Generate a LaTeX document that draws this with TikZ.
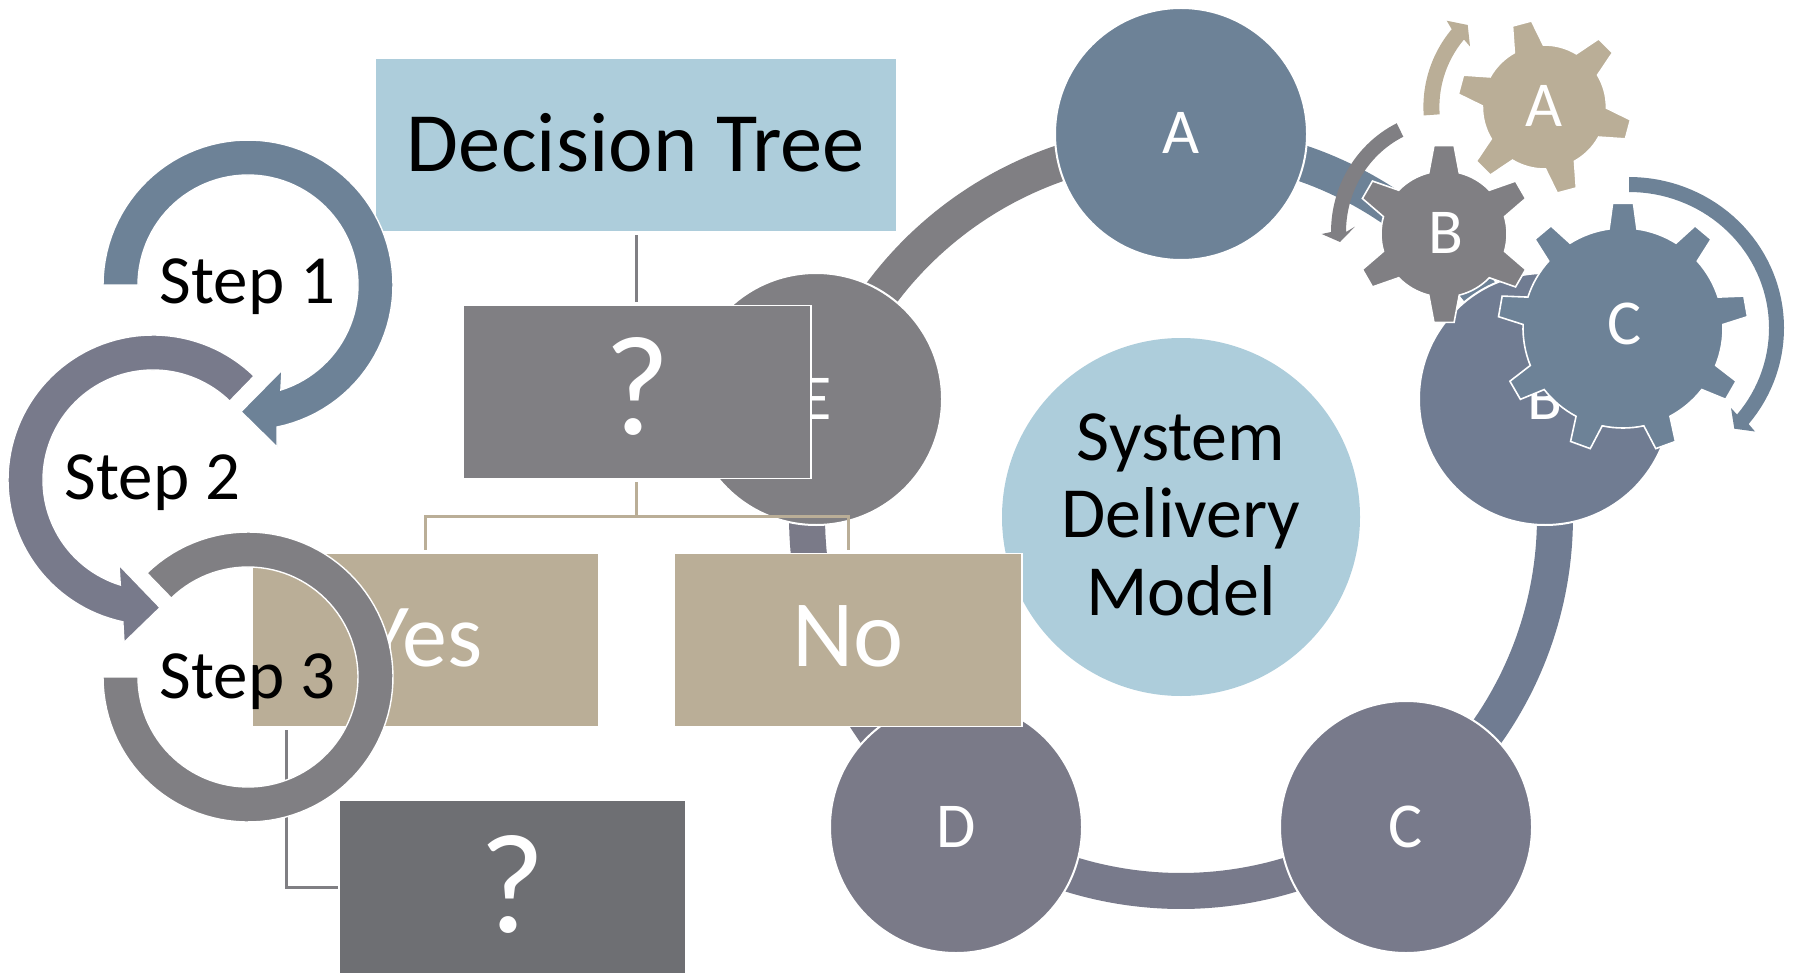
\documentclass[tikz,border=0pt]{standalone}
\usepackage{fontspec}
\setmainfont{Carlito}
\definecolor{cblue}{HTML}{6D8297}
\definecolor{cslate}{HTML}{707C92}
\definecolor{cviolet}{HTML}{787A8B}
\definecolor{cmauve}{HTML}{7A7A88}
\definecolor{cgray}{HTML}{807F83}
\definecolor{cdark}{HTML}{6E6F73}
\definecolor{ctan}{HTML}{BAAE97}
\definecolor{clight}{HTML}{ADCDDB}
\newcommand{\fsz}[1]{\fontsize{#1}{#1}\selectfont}
\newcommand{\ringband}[3]{\draw[#1,line width=36pt] plot[domain=#2:#3,samples=60] ({1181+374*cos(\x)},{517-374*sin(\x)});}
\newcommand{\gear}[9]{%
 \filldraw[fill=#1,draw=white,line width=1.6pt] ({#2+#4*cos(#7-#8)},{#3-#4*sin(#7-#8)})
 \foreach \i [evaluate=\i as \a using #7+\i*360/#6] in {1,...,#6}{
   -- ({#2+#4*cos(\a-360/#6-#8)},{#3-#4*sin(\a-360/#6-#8)})
   -- ({#2+#5*cos(\a-360/#6-#9)},{#3-#5*sin(\a-360/#6-#9)})
   -- ({#2+#5*cos(\a-360/#6+#9)},{#3-#5*sin(\a-360/#6+#9)})
   -- ({#2+#4*cos(\a-360/#6+#8)},{#3-#4*sin(\a-360/#6+#8)})
   \foreach \k in {1,...,8}{
     -- ({#2+#4*cos(\a-360/#6+#8+\k*(360/#6-2*#8)/8)},{#3-#4*sin(\a-360/#6+#8+\k*(360/#6-2*#8)/8)})
   }
 } -- cycle;}
\tikzset{
 disc/.style={circle,fill=#1,draw=white,line width=2pt,minimum size=252pt,inner sep=0pt},
 tbox/.style={rectangle,fill=#1,draw=white,line width=1.6pt,inner sep=0pt},
 conn/.style={line width=3pt,draw=#1,shorten >=3pt,shorten <=3pt},
 lab/.style={anchor=base,inner sep=0pt,text=white,font=\fsz{64}},
 steptxt/.style={anchor=base,inner sep=0pt,text=black,font=\fsz{69}},
 coretxt/.style={anchor=base,inner sep=0pt,text=black,font=\fsz{72}},
 boxtxt/.style={anchor=base,inner sep=0pt,text=white,font=\fsz{#1}},
 stepshape/.style={fill=#1,draw=white,line width=1.4pt}
}
\begin{document}
\begin{tikzpicture}[x=1pt,y=-1pt]
\useasboundingbox (0,0) rectangle (1793,976);
% ring
\ringband{cgray}{162}{90}
\ringband{cblue}{90}{18}
\ringband{cslate}{18}{-54}
\ringband{cviolet}{-54}{-126}
\ringband{cmauve}{-126}{-198}
\node[disc=cblue] (ra) at (1181,134) {};
\node[disc=cslate] (rb) at (1545,399) {};
\node[disc=cviolet] (rc) at (1406,827) {};
\node[disc=cmauve] (rd) at (956,827) {};
\node[disc=cgray] (re) at (816,399) {};
\node[lab] (la) at (1181,154) {A};
\node[lab] (lb) at (1545,419) {B};
\node[lab] (lc) at (1406,847) {C};
\node[lab] (ld) at (956,847) {D};
\node[lab] (le) at (816,419) {E};
\node[circle,fill=clight,minimum size=358pt,inner sep=0pt] (core) at (1181,517) {};
\node[coretxt] (s1) at (1181,460) {System};
\node[coretxt] (s2) at (1181,537) {Delivery};
\node[coretxt] (s3) at (1181,615) {Model};
% gears
\gear{ctan}{1544.4}{107}{62}{87}{6}{45}{14}{6.5}
\gear{cgray}{1444}{234}{63}{89}{6}{30}{14}{6.5}
\gear{cblue}{1623}{328}{100}{125}{9}{10}{8}{4.8}
\node[lab] (ga) at (1544.4,127) {A};
\node[lab] (gb) at (1446,254) {B};
\node[lab] (gc) at (1625,344) {C};
% gear arrows
\fill[ctan] plot[domain=184:140,samples=30] ({1544.4+121*cos(\x)},{107-121*sin(\x)})
  -- (1446.7,20.7) -- (1467.7,25) -- (1470,46.5)
  -- plot[domain=140:184,samples=30] ({1544.4+105*cos(\x)},{107-105*sin(\x)}) -- cycle;
\fill[cgray] plot[domain=116:180,samples=30] ({1448+117*cos(\x)},{232-121*sin(\x)})
  -- (1321.7,234) -- (1340,242) -- (1355,226.6)
  -- plot[domain=180:116,samples=30] ({1448+102*cos(\x)},{232-106*sin(\x)}) -- cycle;
\fill[cblue] plot[domain=90:-39.5,samples=50] ({1629+155*cos(\x)},{328-151*sin(\x)})
  -- (1755,431.5) -- (1734.3,428.7) -- (1731,408)
  -- plot[domain=-39.5:90,samples=50] ({1629+140*cos(\x)},{328-136*sin(\x)}) -- cycle;
% decision tree
\node[tbox=clight,minimum width=522pt,minimum height=173pt] (dt) at (636,145) {};
\node[tbox=cgray,minimum width=348pt,minimum height=173pt] (q1) at (637,392) {};
\node[tbox=ctan,minimum width=346pt,minimum height=173pt] (yes) at (425.5,640) {};
\node[tbox=ctan,minimum width=348pt,minimum height=173pt] (no) at (848,640) {};
\node[tbox=cdark,minimum width=346pt,minimum height=173pt] (q2) at (512.5,887) {};
\node[boxtxt=84.5,text=black] (tdt) at (636,171.5) {Decision Tree};
\node[boxtxt=142] (tq1) at (637,434.5) {?};
\node[boxtxt=90] (tyes) at (424,666) {Yes};
\node[boxtxt=95] (tno) at (848,666) {No};
\node[boxtxt=142] (tq2) at (512,932) {?};
\coordinate (bus) at (636,516);
\draw[conn=cgray] (dt.south) -- (dt.south |- q1.north);
\draw[conn=ctan,shorten >=0pt] (dt.south |- q1.south) -- (bus);
\draw[conn=ctan,shorten <=0pt] (bus) -| (yes.north);
\draw[conn=ctan,shorten <=0pt] (bus) -| (no.north);
\draw[conn=cgray,shorten >=1pt] ([xshift=34.5pt]yes.south west) |- (q2.west);
% steps
\filldraw[stepshape=cblue] plot[domain=180:-78.4,samples=80] ({248+145*cos(\x)},{285-145*sin(\x)})
  -- (277,447) -- (241,411.6) -- (282,370)
  -- plot[domain=-72.6:180,samples=80] ({248+110*cos(\x)},{285-110*sin(\x)}) -- cycle;
\filldraw[stepshape=cviolet] plot[domain=45.8:258,samples=80] ({153+145*cos(\x)},{480-145*sin(\x)})
  -- (124,642.5) -- (160,607.6) -- (119,565)
  -- plot[domain=252.7:45.8,samples=80] ({153+110*cos(\x)},{480-110*sin(\x)}) -- cycle;
\filldraw[stepshape=cgray] plot[domain=180:494.2,samples=100] ({248+145*cos(\x)},{677-145*sin(\x)})
  -- plot[domain=494.2:180,samples=100] ({248+110*cos(\x)},{677-110*sin(\x)}) -- cycle;
\node[steptxt] (st1) at (247.5,304) {Step 1};
\node[steptxt] (st2) at (152.5,499) {Step 2};
\node[steptxt] (st3) at (247.5,698) {Step 3};
\end{tikzpicture}
\end{document}
